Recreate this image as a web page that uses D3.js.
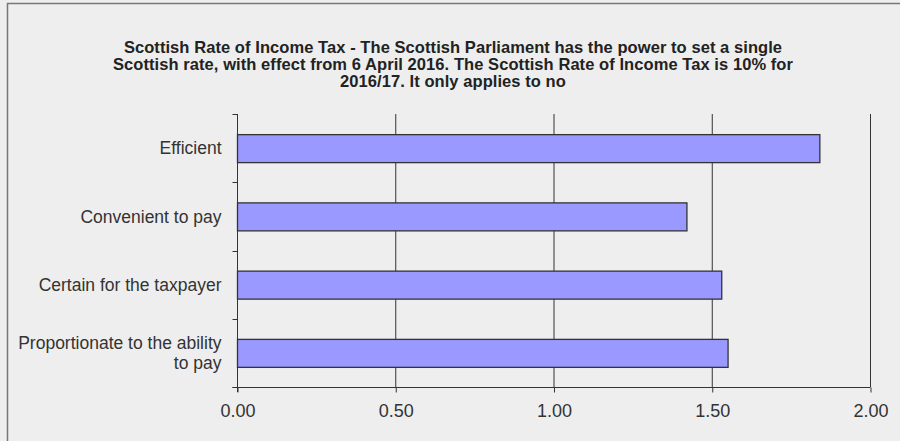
<!DOCTYPE html>
<html>
<head>
<meta charset="utf-8">
<script src="https://cdn.jsdelivr.net/npm/d3@7"></script>
<style>
  body { margin: 0; background: #eeeeee; }
  svg { display: block; }
</style>
</head>
<body>
<svg id="drawing_region"></svg>
<script>
// data
const categories = ["Efficient", "Convenient to pay", "Certain for the taxpayer", "Proportionate to the ability to pay"];
const values = [1.84, 1.42, 1.53, 1.55];
const label_lines = [["Efficient"], ["Convenient to pay"], ["Certain for the taxpayer"], ["Proportionate to the ability", "to pay"]];
const x_ticks = [0, 0.5, 1, 1.5, 2];
const title_lines = [
    "Scottish Rate of Income Tax - The Scottish Parliament has the power to set a single",
    "Scottish rate, with effect from 6 April 2016. The Scottish Rate of Income Tax is 10% for",
    "2016/17. It only applies to no"
];

const width = 900, height = 441;
const margin = {top: 114, right: 30, bottom: 54, left: 237};
const inner_width = 870 - margin.left;
const inner_height = 387 - margin.top;

const svg = d3.select('#drawing_region')
    .attr('width', width)
    .attr('height', height);

svg.append('rect')
    .attr('x', 0).attr('y', 0)
    .attr('width', width).attr('height', height)
    .attr('fill', '#eeeeee');

// frame, only top and left edges show
svg.append('path')
    .attr('d', `M7.5,${height} V3.5 H${width}`)
    .attr('fill', 'none')
    .attr('stroke', '#777')
    .attr('stroke-width', 1.5);

const title = svg.append('text')
    .attr('text-anchor', 'middle')
    .attr('font-family', 'Liberation Sans, Arial, sans-serif')
    .attr('font-weight', 'bold')
    .attr('font-size', '16.5px')
    .attr('fill', '#222');
title.selectAll('tspan')
    .data(title_lines)
    .join('tspan')
    .attr('x', 453)
    .attr('y', (d, i) => 53 + i * 17)
    .text(d => d);

// squeeze the title so the second line is about 680px wide
const line2 = title.selectAll('tspan').nodes()[1];
const ls = (680 - line2.getComputedTextLength()) / title_lines[1].length;
title.attr('letter-spacing', ls + 'px');

const chart = svg.append('g')
    .attr('transform', `translate(${margin.left}, ${margin.top})`);

const xscale = d3.scaleLinear()
    .domain([0, 2])
    .range([0, inner_width]);

const yscale = d3.scaleBand()
    .domain(categories)
    .range([0, inner_height])
    .paddingInner(0.59)
    .paddingOuter(0.295);

// vertical grid lines
chart.append('g')
    .selectAll('line')
    .data(x_ticks.slice(1))
    .join('line')
    .attr('x1', d => xscale(d) + 0.5)
    .attr('x2', d => xscale(d) + 0.5)
    .attr('y1', 0)
    .attr('y2', inner_height)
    .attr('stroke', '#333')
    .attr('stroke-width', 1);

chart.selectAll('rect.bar')
    .data(values)
    .join('rect')
    .attr('class', 'bar')
    .attr('x', xscale(0) + 0.5)
    .attr('y', (d, i) => yscale(categories[i]) + 0.5)
    .attr('width', d => xscale(d) - xscale(0))
    .attr('height', yscale.bandwidth())
    .attr('fill', '#9999ff')
    .attr('stroke', '#333')
    .attr('stroke-width', 1.3);

// x axis
const xaxis_group = chart.append('g')
    .attr('transform', `translate(0.5, ${inner_height + 0.5})`)
    .call(d3.axisBottom(xscale)
        .tickValues(x_ticks)
        .tickSize(5)
        .tickSizeOuter(0)
        .tickFormat(d3.format('.2f')));
xaxis_group.select('.domain')
    .attr('d', `M-5,0H${inner_width}`)
    .attr('stroke', '#333');
xaxis_group.selectAll('.tick line').attr('stroke', '#333');
xaxis_group.selectAll('.tick text')
    .attr('y', 17)
    .attr('dy', '0.71em')
    .attr('font-family', 'Liberation Sans, Arial, sans-serif')
    .attr('font-size', '18px')
    .attr('fill', '#333');

// y axis: ticks between categories
const ybounds = d3.range(categories.length + 1).map(i => i * yscale.step());
const yaxis_group = chart.append('g')
    .attr('transform', 'translate(0.5, 0)');
yaxis_group.append('line')
    .attr('x1', 0).attr('x2', 0)
    .attr('y1', 0).attr('y2', inner_height + 5)
    .attr('stroke', '#333');
yaxis_group.selectAll('line.tick')
    .data(ybounds)
    .join('line')
    .attr('class', 'tick')
    .attr('x1', -5).attr('x2', 0)
    .attr('y1', d => Math.round(d) + 0.5)
    .attr('y2', d => Math.round(d) + 0.5)
    .attr('stroke', '#333');

const labels = yaxis_group.selectAll('text.cat')
    .data(categories)
    .join('text')
    .attr('class', 'cat')
    .attr('text-anchor', 'end')
    .attr('font-family', 'Liberation Sans, Arial, sans-serif')
    .attr('font-size', '17.5px')
    .attr('fill', '#333');

labels.each(function(d, i) {
    const lines = label_lines[i];
    const cy = yscale(d) + yscale.bandwidth() / 2;
    const lh = 19.5;
    d3.select(this).selectAll('tspan')
        .data(lines)
        .join('tspan')
        .attr('x', -16)
        .attr('y', (l, j) => cy + (j - (lines.length - 1) / 2) * lh)
        .attr('dy', '0.35em')
        .text(l => l);
});
</script>
</body>
</html>
